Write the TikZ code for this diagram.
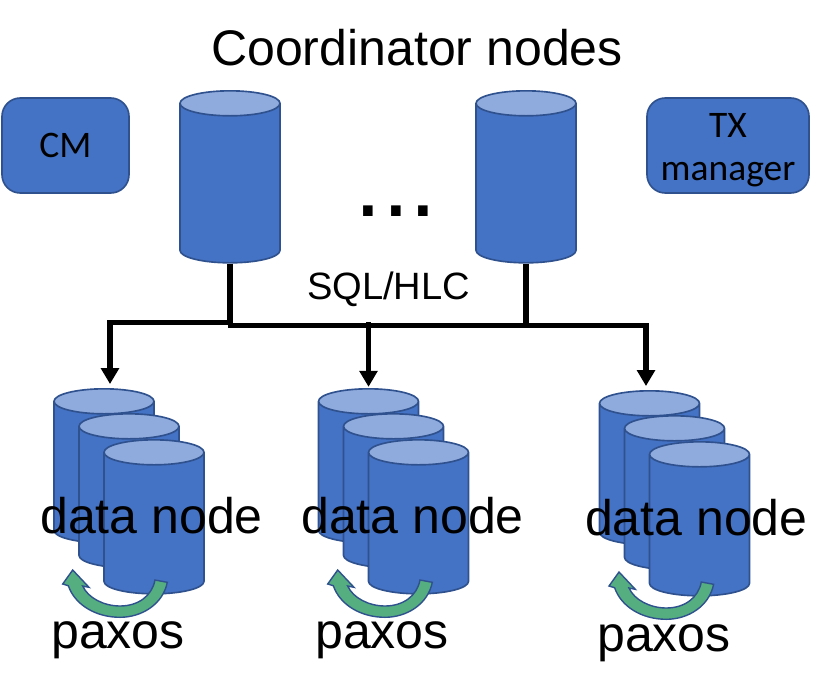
\documentclass[tikz,border=0pt]{standalone}
\usepackage{fontspec}
\setmainfont{Liberation Sans}
\newfontfamily\boxfont{Carlito}
\usetikzlibrary{shapes.geometric,arrows.meta}
\definecolor{nodeblue}{HTML}{4472C4}
\definecolor{nodetop}{HTML}{8FAADC}
\definecolor{nodeline}{HTML}{2F528F}
\definecolor{paxosgreen}{HTML}{55AE7F}
\tikzset{
  dbcyl/.style={cylinder,shape border rotate=90,aspect=0.25,draw=nodeline,line width=1.4pt,
    cylinder uses custom fill,cylinder body fill=nodeblue,cylinder end fill=nodetop,
    inner sep=1.5cm,anchor=north},
  coordcyl/.style={dbcyl,minimum height=5.16cm},
  datacyl/.style={dbcyl,minimum height=4.62cm},
  svcbox/.style={draw=nodeline,line width=1.4pt,fill=nodeblue,rounded corners=0.55cm,
    minimum height=2.85cm,align=center,inner sep=0pt,
    font=\boxfont\fontsize{32}{37.5}\selectfont},
  bigtext/.style={anchor=base,inner sep=0pt,font=\fontsize{42.7}{50}\selectfont},
  wire/.style={line width=4.5pt,miter limit=10},
  feed/.style={wire,-{Triangle[length=13.6pt,width=15pt]},shorten >=3.4pt},
  paxosarc/.style={draw=nodeline,line width=1.2pt,fill=paxosgreen},
}
\begin{document}
\begin{tikzpicture}[x=0.03cm,y=-0.03cm]
    \useasboundingbox (0,0) rectangle (839,691);
    \node[bigtext] (title) at (417,65) {Coordinator nodes};
    \node[svcbox,minimum width=3.81cm] (cm) at (65.5,145.5) {CM};
    \node[svcbox,minimum width=4.86cm] (tx) at (728,145.5) {\rule{0pt}{28.5pt}TX\\manager};
    \node[coordcyl] (coordL) at (230,90) {};
    \node[coordcyl] (coordR) at (526,90) {};
    \node[anchor=base,inner sep=0pt,font=\fontsize{85}{90}\selectfont] (dots) at (396,216) {...};
    \node[anchor=base,inner sep=0pt,font=\fontsize{32.5}{38}\selectfont] (sql) at (388.5,299) {SQL/HLC};
    % three replicas in each group
    \foreach \n/\x/\y in {A/104/388,B/368.5/388,C/649.5/390}{
        \node[datacyl] (data\n1) at (\x,\y) {};
        \node[datacyl] (data\n2) at (\x+25,\y+25) {};
        \node[datacyl] (data\n3) at (\x+50,\y+51) {};
    }
    % the left part of the bus sits a little higher
    \coordinate (busA) at (110,322.8);
    \coordinate (busL) at (232,322.8);
    \coordinate (busM) at (227.5,325.3);
    \coordinate (busB) at (368.5,322);
    \coordinate (busC) at (646,325.3);
    \draw[wire] (coordL.south) -- (coordL.south |- busM);
    \draw[wire] (coordR.south) -- (coordR.south |- busM);
    \draw[feed] (busL) -- (busA) -- (busA |- dataA1.north);
    \draw[feed] (busM) -- (busC) -- (busC |- dataC1.north);
    \draw[feed,shorten >=1pt] (busB) -- (busB |- dataB1.north);
    % replication arrows
    \foreach \dx/\dy in {0/0,265/0,546.3/2}{
        \begin{scope}[shift={(\dx,\dy)}]
            \draw[paxosarc] (167.3,582.3) .. controls (163,604) and (142,617.3) .. (120,617.3)
                .. controls (96,617.3) and (75,605) .. (68.3,585.7) -- (62.7,584) -- (72.7,570)
                -- (89,587.3) -- (82.7,586) .. controls (88,598) and (104,606) .. (120,606)
                .. controls (138,606) and (152,596) .. (155,580) -- cycle;
        \end{scope}
    }
    \node[bigtext] (labelA) at (151.5,533) {data node};
    \node[bigtext] (labelB) at (412.5,533) {data node};
    \node[bigtext] (labelC) at (696.3,535.5) {data node};
    \node[bigtext] (paxosA) at (118,648) {paxos};
    \node[bigtext] (paxosB) at (382,648) {paxos};
    \node[bigtext] (paxosC) at (664,651) {paxos};
\end{tikzpicture}
\end{document}
